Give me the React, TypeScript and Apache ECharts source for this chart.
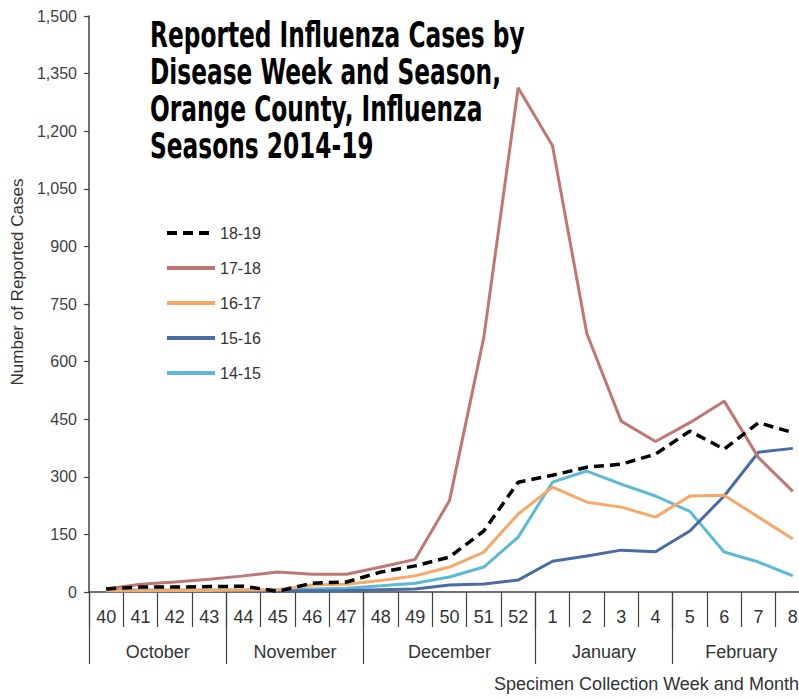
import React, { useEffect, useRef } from 'react';
import * as echarts from 'echarts';

// ---- Data ----
const weeks = ['40', '41', '42', '43', '44', '45', '46', '47', '48', '49', '50', '51', '52', '1', '2', '3', '4', '5', '6', '7', '8'];
const monthNames = ['October', 'November', 'December', 'January', 'February'];
const monthWeekCounts = [4, 4, 5, 4, 4];

const seasonNames = ['18-19', '17-18', '16-17', '15-16', '14-15'];
const cases1819 = [8, 13, 13, 14, 15, 2, 23, 26, 52, 68, 91, 159, 286, 304, 325, 333, 359, 419, 372, 441, 415];
const cases1718 = [8, 20, 26, 33, 42, 52, 46, 46, 65, 85, 238, 663, 1313, 1162, 673, 445, 392, 441, 497, 350, 262];
const cases1617 = [3, 3, 4, 4, 5, 6, 18, 20, 30, 42, 65, 104, 203, 273, 234, 221, 195, 250, 252, 195, 138];
const cases1516 = [2, 2, 2, 2, 2, 2, 3, 4, 6, 8, 18, 21, 31, 80, 94, 109, 105, 159, 250, 364, 374];
const cases1415 = [5, 5, 5, 5, 5, 6, 8, 10, 16, 23, 39, 65, 143, 286, 315, 281, 250, 210, 104, 78, 42];

const yMin = 0;
const yMax = 1500;
const yStep = 150;

const titleLines = ['Reported Influenza Cases by', 'Disease Week and Season,', 'Orange County, Influenza', 'Seasons 2014-19'];
const yAxisTitle = 'Number of Reported Cases';
const xAxisTitle = 'Specimen Collection Week and Month';

export default function App() {
  const ref = useRef<HTMLDivElement>(null);

  useEffect(() => {
    if (!ref.current) return;
    const chart = echarts.init(ref.current, null, { renderer: 'svg' });

    // half-week slots for month axis (labels centred, ticks at boundaries)
    const slotCount = weeks.length * 2 + 1;
    const monthSlotLabels: string[] = new Array(slotCount).fill('');
    const monthBoundarySlots: number[] = [0];
    let acc = 0;
    monthNames.forEach((m, i) => {
      const start = acc;
      acc += monthWeekCounts[i];
      monthSlotLabels[start + acc] = m;
      monthBoundarySlots.push(acc * 2);
    });
    const slotIds = monthSlotLabels.map((_, i) => String(i));

    const axisColor = '#404040';
    const font = 'Liberation Sans, Arial, sans-serif';

    const seriesDefs = [
      { name: '14-15', data: cases1415, color: '#5bbad6', width: 3, type: 'solid' as any },
      { name: '15-16', data: cases1516, color: '#4a6ca4', width: 3, type: 'solid' as any },
      { name: '16-17', data: cases1617, color: '#f7a865', width: 3, type: 'solid' as any },
      { name: '17-18', data: cases1718, color: '#c07675', width: 3, type: 'solid' as any },
      { name: '18-19', data: cases1819, color: '#000000', width: 3.5, type: [10, 6] as any },
    ];

    chart.setOption({
      animation: false,
      backgroundColor: '#ffffff',
      grid: { left: 89, top: 16, width: 721, height: 577, containLabel: false },
      legend: {
        data: seasonNames,
        orient: 'vertical',
        left: 160,
        top: 220,
        itemWidth: 48,
        itemHeight: 16,
        itemGap: 19,
        textStyle: { fontSize: 16, color: '#333', fontFamily: font, lineHeight: 16 },
        lineStyle: { width: 4 },
        itemStyle: { opacity: 0 },
      },
      xAxis: [
        {
          type: 'category',
          position: 'bottom',
          data: weeks,
          boundaryGap: true,
          axisLine: { show: true, lineStyle: { color: axisColor, width: 1.5 } },
          axisTick: { show: true, interval: 0, length: 35, lineStyle: { color: axisColor, width: 1.2 } },
          axisLabel: { interval: 0, fontSize: 18, color: '#333', margin: 16, fontFamily: font },
          splitLine: { show: false },
          name: xAxisTitle,
          nameLocation: 'middle',
          nameGap: 83,
          nameTextStyle: { fontSize: 18, color: '#333', fontFamily: font, padding: [0, 0, 0, 394] },
        },
        {
          type: 'category',
          position: 'bottom',
          data: slotIds,
          boundaryGap: false,
          axisLine: { show: false },
          axisTick: {
            show: true,
            interval: (index: number) => monthBoundarySlots.indexOf(index) >= 0,
            length: 72,
            lineStyle: { color: axisColor, width: 1.2 },
          },
          axisLabel: {
            interval: 0,
            fontSize: 18,
            color: '#333',
            margin: 51,
            fontFamily: font,
            formatter: (_v: string, idx: number) => monthSlotLabels[idx] || '',
          },
          splitLine: { show: false },
        },
      ],
      yAxis: {
        type: 'value',
        min: yMin,
        max: yMax,
        interval: yStep,
        axisLine: { show: true, lineStyle: { color: axisColor, width: 1.5 } },
        axisTick: { show: true, length: 5, lineStyle: { color: axisColor, width: 1.2 } },
        axisLabel: {
          fontSize: 16,
          color: '#404040',
          margin: 12,
          fontFamily: font,
          formatter: (v: number) => v.toLocaleString('en-US'),
        },
        splitLine: { show: false },
        name: yAxisTitle,
        nameLocation: 'middle',
        nameGap: 52,
        nameTextStyle: { fontSize: 17, color: '#333', fontFamily: font, padding: [0, 0, 0, 44] },
      },
      graphic: [
        {
          type: 'text',
          x: 150,
          y: 16,
          scaleX: 0.74,
          style: {
            text: titleLines.join('\n'),
            font: 'bold 35px "DejaVu Sans Condensed", "DejaVu Sans", sans-serif',
            lineHeight: 37,
            fill: '#000',
            textVerticalAlign: 'top',
          },
        },
      ],
      series: seriesDefs.map((s) => ({
        name: s.name,
        type: 'line',
        xAxisIndex: 0,
        data: s.data,
        symbol: 'none',
        color: s.color,
        itemStyle: { color: s.color },
        lineStyle: { color: s.color, width: s.width, type: s.type },
      })),
    });

    return () => chart.dispose();
  }, []);

  return (
    <div style={{ position: 'fixed', left: 0, top: 0, width: 799, height: 698, overflow: 'hidden' }}>
      <div ref={ref} style={{ position: 'absolute', left: 0, top: 0, width: 840, height: 698 }} />
    </div>
  );
}
